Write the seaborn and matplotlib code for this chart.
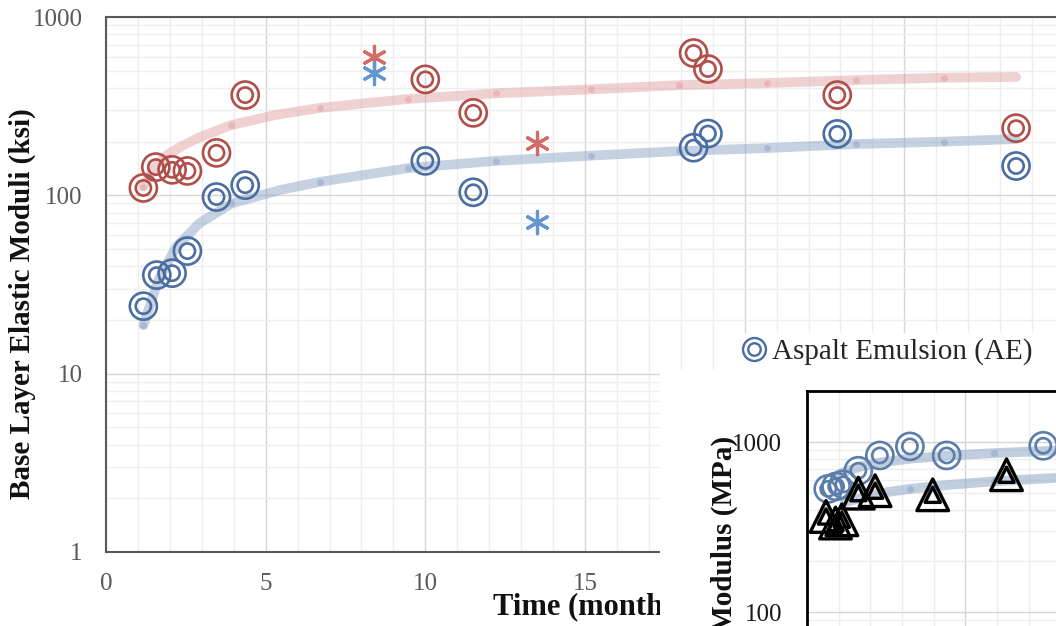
import matplotlib
matplotlib.use('Agg')
import matplotlib.pyplot as plt
import matplotlib.patches as mpatches
from matplotlib.lines import Line2D
from matplotlib.ticker import MultipleLocator, LogLocator, FuncFormatter, NullFormatter
import seaborn as sns

# ---- main chart data (ksi vs months) ----
red_time = [1.17, 1.56, 2.07, 2.55, 3.46, 4.36, 10.0, 11.5, 18.4, 18.85, 22.9, 28.5]
red_mod = [110, 144, 139, 137, 173, 365, 447, 290, 628, 511, 365, 238]
blue_time = [1.17, 1.59, 2.07, 2.55, 3.46, 4.36, 10.0, 11.5, 18.4, 18.85, 22.9, 28.5]
blue_mod = [23.9, 35.7, 36.6, 48.7, 97.8, 114, 156, 104, 185, 222, 221, 146]
star_time = [8.4, 13.5]
red_star = [598, 196]
blue_star = [483, 71]

red_trend_t = [1.17, 1.5, 1.9, 2.4, 2.94, 3.93, 5.3, 6.69, 9.45, 12.2, 15.2, 17.95, 20.7, 23.5, 26.25, 28.5]
red_trend_v = [112, 142, 168, 190, 212, 248, 282, 309, 347, 373, 393, 415, 426, 443, 457, 461]
red_dots = [0, 5, 7, 8, 9, 10, 11, 12, 13, 14]
blue_trend_t = [1.17, 1.64, 2.2, 2.94, 3.93, 5.44, 6.69, 9.45, 12.2, 15.2, 17.95, 20.7, 23.5, 26.25, 28.5]
blue_trend_v = [18.7, 33.5, 51.5, 70, 90, 107, 119, 142, 156, 167, 177, 184, 194, 200, 207]
blue_dots = [0, 4, 6, 7, 8, 9, 10, 11, 12, 13]

# ---- inset data (MPa) ----
in_circ_t = [0.67, 0.92, 1.15, 1.62, 2.3, 3.25, 4.41, 7.46]
in_circ_v = [532, 550, 565, 680, 836, 945, 836, 953]
in_tri_t = [0.6, 0.9, 1.1, 1.62, 2.15, 3.97, 6.3]
in_tri_v = [366, 335, 350, 502, 519, 491, 644]
in_up_t = [1.0, 1.64, 2.3, 3.25, 4.5, 5.9, 7.86, 10]
in_up_v = [650, 715, 760, 800, 835, 863, 893, 915]
in_lo_t = [1.2, 1.62, 2.41, 3.25, 4.5, 5.9, 7.86, 10]
in_lo_v = [445, 465, 505, 532, 562, 589, 617, 640]

RED = '#B04F4A'
BLUE = '#4A6EA2'
BLUE_IN = '#5A7DAA'

sns.set_style('white')
plt.rcParams['font.family'] = ['Liberation Serif', 'DejaVu Serif']

W, H = 1056, 626
fig = plt.figure(figsize=(W / 100, H / 100), dpi=100)
ax = fig.add_axes([106 / W, 1 - 552 / H, (1064 - 106) / W, (552 - 17) / H])
ax.set_yscale('log')


def ring(axis, x, y, col, outer=380, inner=120, lw=1.9):
    sns.scatterplot(x=x, y=y, ax=axis, s=outer, marker='o', facecolor='none',
                    edgecolor=col, linewidth=lw, zorder=5, legend=False)
    sns.scatterplot(x=x, y=y, ax=axis, s=inner, marker='o', facecolor='none',
                    edgecolor=col, linewidth=lw, zorder=5, legend=False)


def style_grid(axis):
    axis.xaxis.set_minor_locator(MultipleLocator(1))
    axis.yaxis.set_minor_locator(LogLocator(base=10, subs=range(2, 10)))
    axis.yaxis.set_minor_formatter(NullFormatter())
    axis.yaxis.set_major_formatter(FuncFormatter(lambda v, p: f'{v:g}'))
    axis.grid(which='major', color='#D6D6D6', lw=1)
    axis.grid(which='minor', color='#EEEEEE', lw=1)
    axis.set_axisbelow(True)


# trend lines
sns.lineplot(x=red_trend_t, y=red_trend_v, ax=ax, color='#DE9A9A', alpha=0.45, lw=7,
             marker='o', markersize=5, markeredgewidth=0, markevery=red_dots,
             solid_capstyle='round', legend=False, zorder=3)
sns.lineplot(x=blue_trend_t, y=blue_trend_v, ax=ax, color='#8EA6C6', alpha=0.5, lw=7,
             marker='o', markersize=5, markeredgewidth=0, markevery=blue_dots,
             solid_capstyle='round', legend=False, zorder=3)

ring(ax, red_time, red_mod, RED)
ring(ax, blue_time, blue_mod, BLUE)
sns.scatterplot(x=star_time, y=red_star, ax=ax, s=260, marker=(6, 2, 0),
                color='#D46A66', linewidth=2.3, zorder=6, legend=False)
sns.scatterplot(x=star_time, y=blue_star, ax=ax, s=260, marker=(6, 2, 0),
                color='#6496D2', linewidth=2.3, zorder=6, legend=False)

ax.set_xlim(0, 30)
ax.set_ylim(1, 1000)
ax.xaxis.set_major_locator(MultipleLocator(5))
style_grid(ax)
ax.tick_params(which='both', length=0, labelsize=18, labelcolor='#595959')
ax.tick_params(axis='x', pad=15)
ax.tick_params(axis='y', pad=17)
ax.set_xlabel('')
ax.set_ylabel('')
for s in ax.spines.values():
    s.set_color('#595959')
    s.set_linewidth(1.5)

fig.text(22 / W, 1 - 304 / H, 'Base Layer Elastic Moduli (ksi)', rotation=90,
         ha='center', va='center', fontsize=21, fontweight='bold', color='#111111')
fig.text(493 / W, 1 - 607 / H, 'Time (months)', ha='left', va='center',
         fontsize=22, fontweight='bold', color='#111111', zorder=0.5)

# legend
h_out = Line2D([], [], ls='none', marker='o', markersize=16.5, mfc='none', mec=BLUE, mew=1.7)
h_in = Line2D([], [], ls='none', marker='o', markersize=9, mfc='none', mec=BLUE, mew=1.7)
leg = ax.legend([(h_out, h_in)], ['Aspalt Emulsion (AE)'], loc='center left',
                bbox_to_anchor=(734 / W, 1 - 352 / H), bbox_transform=fig.transFigure,
                fontsize=21, frameon=True, facecolor='white', edgecolor='none',
                framealpha=1, borderpad=0.2, handlelength=1.0, handletextpad=0.1,
                borderaxespad=0)
for t in leg.get_texts():
    t.set_color('#262626')

# white block behind the inset
fig.add_artist(mpatches.Rectangle((660 / W, 0), 1 - 660 / W, 1 - 370 / H,
                                  transform=fig.transFigure, facecolor='white',
                                  edgecolor='none', zorder=1))

# ---- inset ----
axi = fig.add_axes([807 / W, 1 - 782.5 / H, 316.7 / W, 391.5 / H])
axi.set_zorder(2)
axi.set_facecolor('white')
axi.set_yscale('log')
sns.lineplot(x=in_up_t, y=in_up_v, ax=axi, color='#8EA6C6', alpha=0.55, lw=7,
             marker='o', markersize=5, markeredgewidth=0, markevery=[5],
             solid_capstyle='round', legend=False, zorder=3)
sns.lineplot(x=in_lo_t, y=in_lo_v, ax=axi, color='#8EA6C6', alpha=0.55, lw=7,
             marker='o', markersize=5, markeredgewidth=0, markevery=[3, 5],
             solid_capstyle='round', legend=False, zorder=3)
ring(axi, in_circ_t, in_circ_v, BLUE_IN)
sns.scatterplot(x=in_tri_t, y=in_tri_v, ax=axi, s=520, marker='^', facecolor='none',
                edgecolor='black', linewidth=2.4, zorder=6, legend=False)
sns.scatterplot(x=in_tri_t, y=in_tri_v, ax=axi, s=120, marker='^', facecolor='none',
                edgecolor='black', linewidth=2.4, zorder=6, legend=False)
axi.set_xlim(0, 10)
axi.set_ylim(10, 2000)
axi.xaxis.set_major_locator(MultipleLocator(5))
style_grid(axi)
axi.tick_params(which='both', length=0, labelsize=18, labelcolor='#1A1A1A')
axi.tick_params(axis='y', pad=18)
axi.set_xlabel('')
axi.set_ylabel('')
for s in axi.spines.values():
    s.set_color('black')
    s.set_linewidth(2)

fig.text(724 / W, 1 - 436 / H, 'Elastic Modulus (MPa)', rotation=90, ha='center',
         va='top', fontsize=21, fontweight='bold', color='#111111', zorder=3)

fig.savefig('out.png', dpi=100)
